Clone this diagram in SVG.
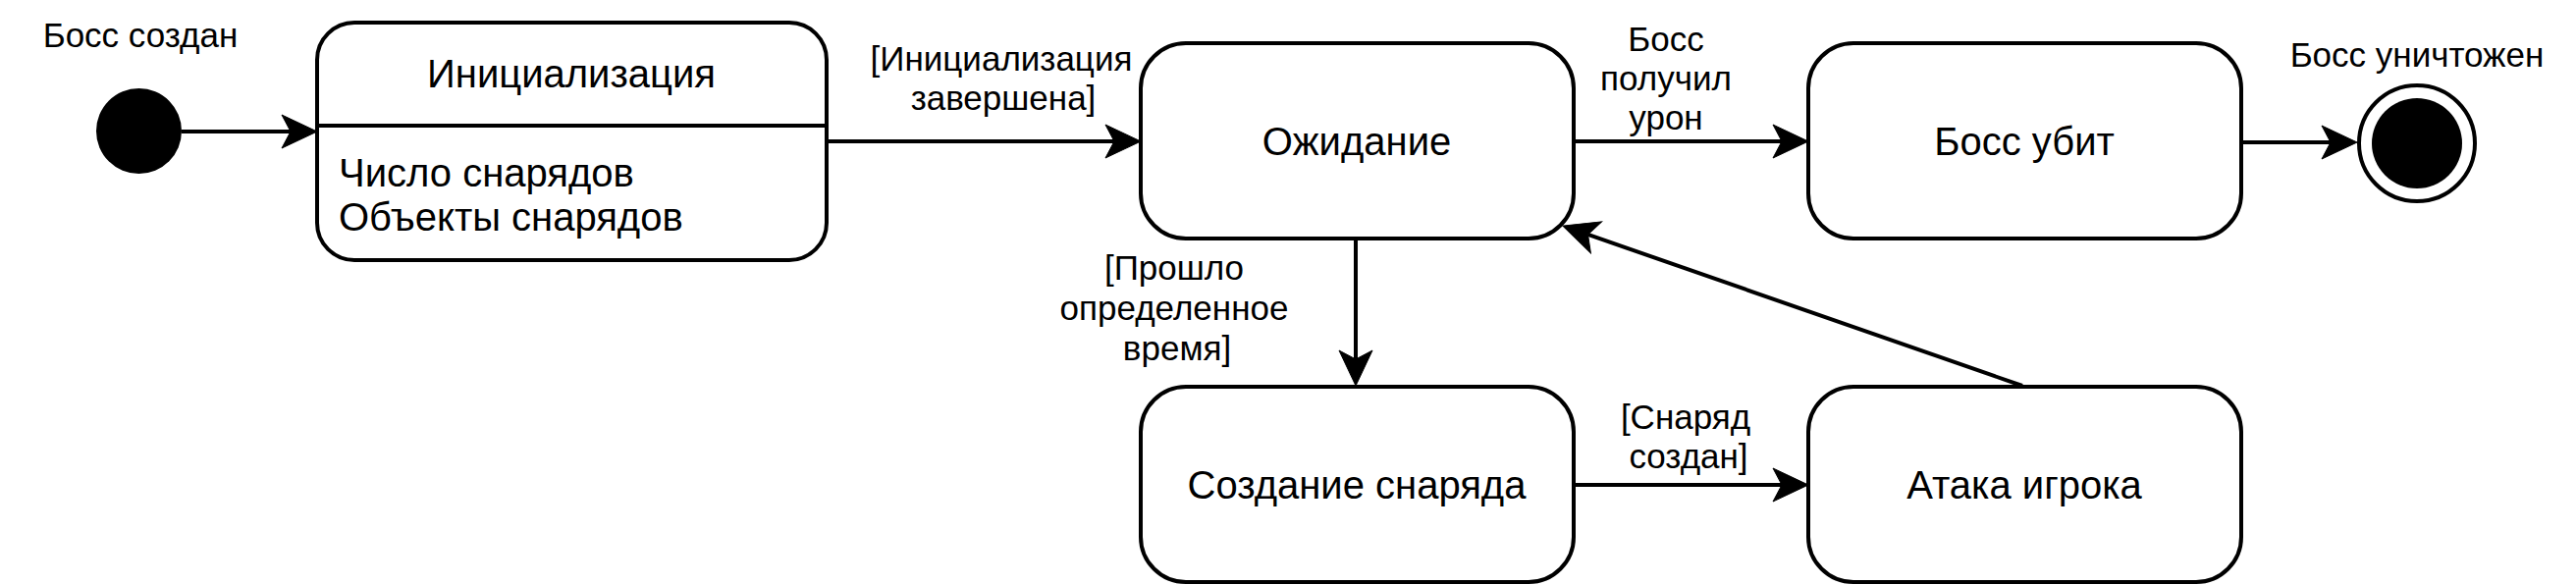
<svg xmlns="http://www.w3.org/2000/svg" width="2624" height="596" viewBox="0 0 2624 596">
<defs>
<style>
.node{fill:#ffffff;stroke:#000000;stroke-width:4}
.conn{fill:none;stroke:#000000;stroke-width:4}
.nt{font-family:"Liberation Sans",Arial,sans-serif;font-size:40px;fill:#000000;text-anchor:middle}
.bt{font-family:"Liberation Sans",Arial,sans-serif;font-size:40px;fill:#000000;text-anchor:start}
.lt{font-family:"Liberation Sans",Arial,sans-serif;font-size:35px;fill:#000000;text-anchor:middle}
</style>
<marker id="arr" markerUnits="userSpaceOnUse" viewBox="0 -18 37 36" markerWidth="37" markerHeight="36" refX="9" refY="0" orient="auto" overflow="visible">
<path d="M36,0 L0,-17 L9,0 L0,17 Z" fill="#000000" stroke="#000000" stroke-width="1"/>
</marker>
</defs>
<rect width="2624" height="596" fill="#ffffff"/>

<g id="start">
<circle cx="141.5" cy="133.5" r="43.5" fill="#000000"/>
<text class="lt" x="143" y="48">Босс создан</text>
</g>

<g id="init">
<rect class="node" x="323" y="23" width="519" height="242" rx="38" ry="38"/>
<line x1="323" y1="128" x2="842" y2="128" stroke="#000000" stroke-width="4"/>
<text class="nt" x="582" y="89">Инициализация</text>
<text class="bt" x="345" y="190">Число снарядов</text>
<text class="bt" x="345" y="235">Объекты снарядов</text>
</g>

<g id="waiting">
<rect class="node" x="1162" y="44" width="441" height="199" rx="46" ry="46"/>
<text class="nt" x="1382" y="158">Ожидание</text>
</g>

<g id="killed">
<rect class="node" x="1842" y="44" width="441" height="199" rx="46" ry="46"/>
<text class="nt" x="2062" y="158">Босс убит</text>
</g>

<g id="create">
<rect class="node" x="1162" y="394" width="441" height="199" rx="46" ry="46"/>
<text class="nt" x="1382" y="508">Создание снаряда</text>
</g>

<g id="attack">
<rect class="node" x="1842" y="394" width="441" height="199" rx="46" ry="46"/>
<text class="nt" x="2062" y="508">Атака игрока</text>
</g>

<g id="final">
<circle cx="2462" cy="146" r="59" fill="#ffffff" stroke="#000000" stroke-width="4"/>
<circle cx="2462" cy="146" r="46" fill="#000000"/>
<text class="lt" x="2462" y="68">Босс уничтожен</text>
</g>

<g id="connectors">
<line class="conn" x1="185" y1="134" x2="296" y2="134" marker-end="url(#arr)"/>
<line class="conn" x1="842" y1="144" x2="1135" y2="144" marker-end="url(#arr)"/>
<line class="conn" x1="1603" y1="144" x2="1815" y2="144" marker-end="url(#arr)"/>
<line class="conn" x1="2283" y1="145" x2="2374" y2="145" marker-end="url(#arr)"/>
<line class="conn" x1="1381" y1="243" x2="1381" y2="366" stroke-width="3" marker-end="url(#arr)"/>
<line class="conn" x1="1603" y1="494" x2="1815" y2="494" marker-end="url(#arr)"/>
<line class="conn" x1="2060" y1="393" x2="1617.5" y2="238.9" marker-end="url(#arr)"/>
<text class="lt" x="1020" y="72">[Инициализация</text>
<text class="lt" x="1022" y="112">завершена]</text>
<text class="lt" x="1697" y="52">Босс</text>
<text class="lt" x="1697" y="92">получил</text>
<text class="lt" x="1697" y="132">урон</text>
<text class="lt" x="1196" y="285">[Прошло</text>
<text class="lt" x="1196" y="326">определенное</text>
<text class="lt" x="1199" y="367">время]</text>
<text class="lt" x="1717" y="437">[Снаряд</text>
<text class="lt" x="1720" y="477">создан]</text>
</g>
</svg>
